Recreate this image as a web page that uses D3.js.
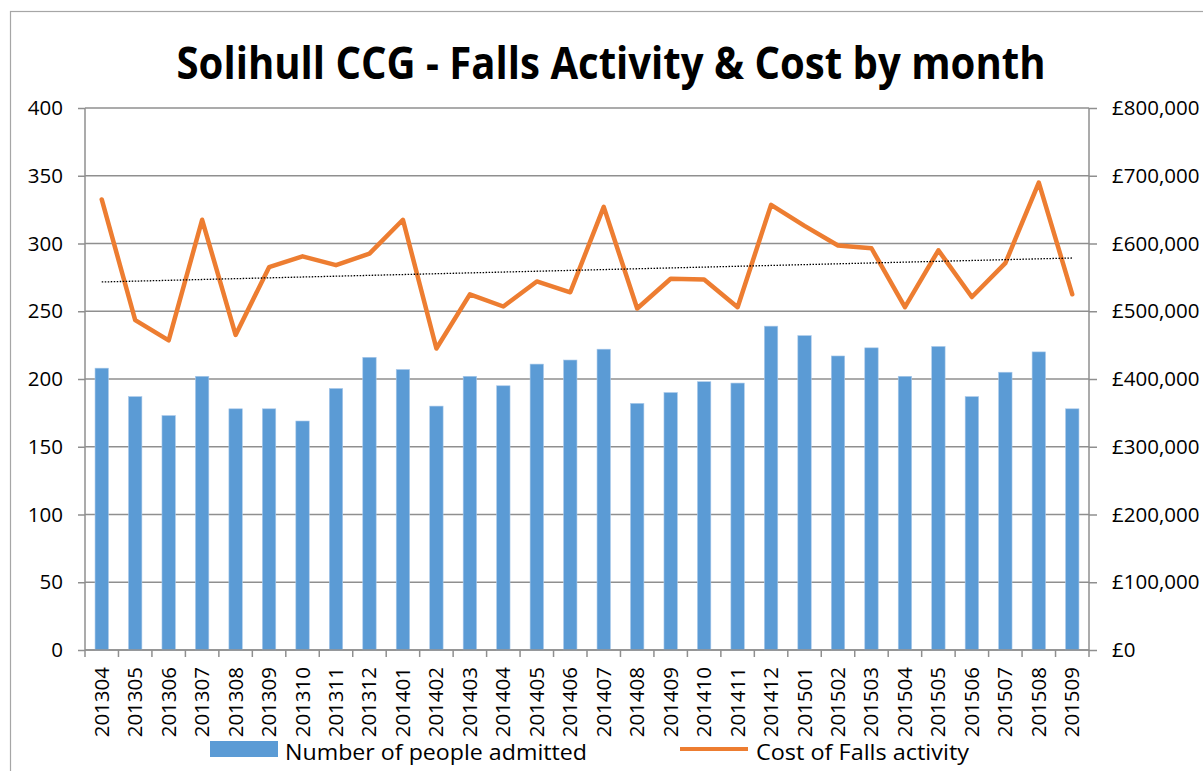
<!DOCTYPE html>
<html>
<head>
<meta charset="utf-8">
<script src="https://cdn.jsdelivr.net/npm/d3@7/dist/d3.min.js"></script>
<style>
  body { margin: 0; background: #fff; }
  svg { display: block; }
  text { font-family: "Open Sans", sans-serif; fill: #000; }
</style>
</head>
<body>
<div id="chart"></div>
<script>
var months = ["201304","201305","201306","201307","201308","201309","201310","201311","201312",
  "201401","201402","201403","201404","201405","201406","201407","201408","201409","201410","201411","201412",
  "201501","201502","201503","201504","201505","201506","201507","201508","201509"];
var admitted = [208,187,173,202,178,178,169,193,216,207,180,202,195,211,214,222,182,190,198,197,239,
  232,217,223,202,224,187,205,220,178];
var cost = [665000,487000,457000,635000,465000,565000,581000,568000,585000,635000,445000,525000,507000,544000,528000,654000,
  504000,548000,547000,506000,657000,626000,597000,593000,506000,590000,521000,571000,690000,525000];
var leftTicks = [0,50,100,150,200,250,300,350,400];
var rightTicks = [0,100000,200000,300000,400000,500000,600000,700000,800000];

var W = 1203, H = 771;
var x0 = 85, x1 = 1089, yTop = 108, yBot = 650;

var svg = d3.select("#chart").append("svg").attr("width", W).attr("height", H);

// chart area border
svg.append("rect")
  .attr("x", 10.5).attr("y", 11.5)
  .attr("width", W).attr("height", H)
  .attr("fill", "none").attr("stroke", "#a6a6a6").attr("stroke-width", 1.2);

var x = d3.scaleBand().domain(months).range([x0, x1]).paddingInner(0.6).paddingOuter(0.3);
var yL = d3.scaleLinear().domain([0, 400]).range([yBot, yTop]);
var yR = d3.scaleLinear().domain([0, 800000]).range([yBot, yTop]);

// gridlines
svg.append("g").selectAll("line").data(leftTicks).enter().append("line")
  .attr("x1", x0).attr("x2", x1)
  .attr("y1", function (d) { return yL(d); })
  .attr("y2", function (d) { return yL(d); })
  .attr("stroke", "#8f8f8f").attr("stroke-width", 1.5);

// bars
svg.append("g").selectAll("rect").data(admitted).enter().append("rect")
  .attr("x", function (d, i) { return x(months[i]); })
  .attr("y", function (d) { return yL(d); })
  .attr("width", x.bandwidth())
  .attr("height", function (d) { return yBot - yL(d); })
  .attr("fill", "#5b9bd5")
  .attr("stroke", "#a9c9ea").attr("stroke-width", 0.6);

// left axis
var leftAxis = d3.axisLeft(yL).tickValues(leftTicks).tickSize(7).tickPadding(15);
var gl = svg.append("g").attr("transform", "translate(" + x0 + ",0)").call(leftAxis);
// right axis
var rightAxis = d3.axisRight(yR).tickValues(rightTicks).tickSize(8).tickPadding(15)
  .tickFormat(function (d) { return "£" + d3.format(",")(d); });
var gr = svg.append("g").attr("transform", "translate(" + x1 + ",0)").call(rightAxis);
// bottom axis (ticks at category boundaries)
var gb = svg.append("g").attr("transform", "translate(0," + yBot + ")");
var bounds = d3.range(months.length + 1).map(function (i) { return x0 + i * x.step(); });
gb.append("line").attr("x1", x0).attr("x2", x1).attr("stroke", "#8f8f8f").attr("stroke-width", 1.5);
gb.selectAll("line.t").data(bounds).enter().append("line").attr("class", "t")
  .attr("x1", function (d) { return d; }).attr("x2", function (d) { return d; })
  .attr("y1", 0).attr("y2", 7).attr("stroke", "#8f8f8f").attr("stroke-width", 1.5);
gb.selectAll("text").data(months).enter().append("text")
  .attr("transform", function (d) { return "translate(" + (x(d) + x.bandwidth() / 2 + 7) + ",17) rotate(-90)"; })
  .attr("text-anchor", "end")
  .style("font-size", "20.5px")
  .text(function (d) { return d; });

[gl, gr].forEach(function (g) {
  g.select(".domain").attr("stroke", "#8f8f8f").attr("stroke-width", 1.5);
  g.selectAll(".tick line").attr("stroke", "#8f8f8f").attr("stroke-width", 1.5);
  g.selectAll(".tick text").style("font-size", "20.5px").attr("fill", "#000");
});
gl.select(".domain").attr("d", "M0," + yBot + "V" + yTop);
gr.select(".domain").attr("d", "M0," + yBot + "V" + yTop);
gl.selectAll(".tick text").attr("x", -22);
gr.selectAll(".tick text").attr("x", 23);

// cost line
var cx = function (d, i) { return x(months[i]) + x.bandwidth() / 2; };
var line = d3.line().x(cx).y(function (d) { return yR(d); });
svg.append("path").datum(cost)
  .attr("d", line)
  .attr("fill", "none").attr("stroke", "#ed7d31").attr("stroke-width", 4.5)
  .attr("stroke-linejoin", "round").attr("stroke-linecap", "round");

// linear trendline of cost
var n = cost.length;
var mx = d3.mean(d3.range(n)), my = d3.mean(cost);
var slope = d3.sum(d3.range(n), function (i) { return (i - mx) * (cost[i] - my); }) /
  d3.sum(d3.range(n), function (i) { return (i - mx) * (i - mx); });
var icpt = my - slope * mx;
svg.append("line")
  .attr("x1", cx(null, 0)).attr("y1", yR(icpt))
  .attr("x2", cx(null, n - 1)).attr("y2", yR(icpt + slope * (n - 1)))
  .attr("stroke", "#000").attr("stroke-width", 1.3).attr("stroke-dasharray", "1.5,1.5");

// title
svg.append("text")
  .attr("x", 611).attr("y", 79)
  .attr("text-anchor", "middle")
  .style("font-size", "44px").style("font-weight", "bold")
  .attr("textLength", 869).attr("lengthAdjust", "spacingAndGlyphs")
  .text("Solihull CCG - Falls Activity & Cost by month");

// legend
var lg = svg.append("g");
lg.append("rect").attr("x", 210).attr("y", 741).attr("width", 68).attr("height", 16).attr("fill", "#5b9bd5");
lg.append("text").attr("x", 285).attr("y", 760).style("font-size", "22px")
  .attr("textLength", 302).attr("lengthAdjust", "spacingAndGlyphs")
  .text("Number of people admitted");
lg.append("line").attr("x1", 680).attr("x2", 748).attr("y1", 749).attr("y2", 749)
  .attr("stroke", "#ed7d31").attr("stroke-width", 4);
lg.append("text").attr("x", 756).attr("y", 760).style("font-size", "22px")
  .attr("textLength", 213).attr("lengthAdjust", "spacingAndGlyphs")
  .text("Cost of Falls activity");
</script>
</body>
</html>
